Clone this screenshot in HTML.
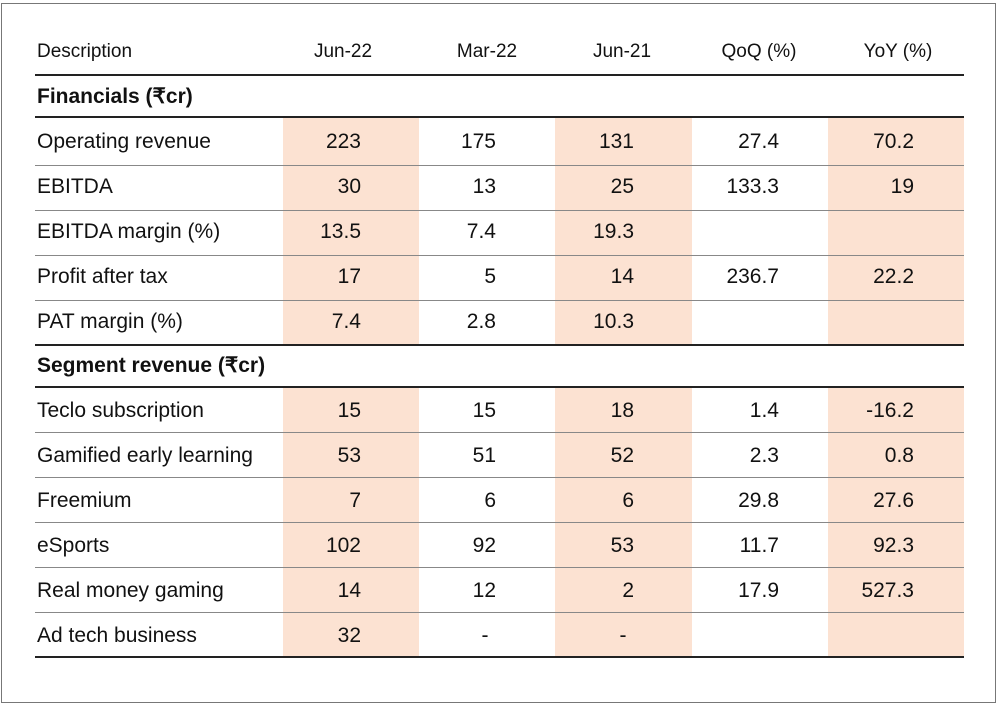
<!DOCTYPE html>
<html><head><meta charset="utf-8"><style>
body{margin:0;width:1000px;height:706px;background:#fff;position:relative;overflow:hidden;font-family:"Liberation Sans",sans-serif;color:#111}
.frame{position:absolute;left:1px;top:3px;width:995px;height:700px;border:1px solid #777;box-sizing:border-box}
.sh{position:absolute;background:#fce2d2}
.ln{position:absolute;left:35px;width:929px;height:1px;background:#888}
.dk{height:2px;background:#222}
.t{position:absolute;font-size:21px;line-height:24px;white-space:nowrap}
.b{font-weight:bold}
</style></head><body>
<div class="frame"></div>
<div class="sh" style="left:283px;top:118px;width:136px;height:227px"></div>
<div class="sh" style="left:555px;top:118px;width:137px;height:227px"></div>
<div class="sh" style="left:828px;top:118px;width:136px;height:227px"></div>
<div class="sh" style="left:283px;top:388px;width:136px;height:269px"></div>
<div class="sh" style="left:555px;top:388px;width:137px;height:269px"></div>
<div class="sh" style="left:828px;top:388px;width:136px;height:269px"></div>
<div class="ln dk" style="top:74px"></div>
<div class="ln dk" style="top:116px"></div>
<div class="ln" style="top:165px"></div>
<div class="ln" style="top:210px"></div>
<div class="ln" style="top:255px"></div>
<div class="ln" style="top:300px"></div>
<div class="ln dk" style="top:344px"></div>
<div class="ln dk" style="top:386px"></div>
<div class="ln" style="top:432px"></div>
<div class="ln" style="top:477px"></div>
<div class="ln" style="top:522px"></div>
<div class="ln" style="top:567px"></div>
<div class="ln" style="top:612px"></div>
<div class="ln dk" style="top:656px"></div>
<div id="c"></div>
<div class="t" style="left:37px;top:40px;font-size:19px">Description</div>
<div class="t" style="left:283px;width:120px;text-align:center;top:40px;font-size:19px">Jun-22</div>
<div class="t" style="left:427px;width:120px;text-align:center;top:40px;font-size:19px">Mar-22</div>
<div class="t" style="left:562px;width:120px;text-align:center;top:40px;font-size:19px">Jun-21</div>
<div class="t" style="left:699px;width:120px;text-align:center;top:40px;font-size:19px">QoQ (%)</div>
<div class="t" style="left:838px;width:120px;text-align:center;top:40px;font-size:19px">YoY (%)</div>
<div class="t b" style="left:37px;top:85px">Financials (₹cr)</div>
<div class="t b" style="left:37px;top:354px">Segment revenue (₹cr)</div>
<script>
var rows=[
[142,"Operating revenue","223","175","131","27.4","70.2"],
[187,"EBITDA","30","13","25","133.3","19"],
[232,"EBITDA margin (%)","13.5","7.4","19.3","",""],
[277,"Profit after tax","17","5","14","236.7","22.2"],
[322,"PAT margin (%)","7.4","2.8","10.3","",""],
[411,"Teclo subscription","15","15","18","1.4","-16.2"],
[456,"Gamified early learning","53","51","52","2.3","0.8"],
[501,"Freemium","7","6","6","29.8","27.6"],
[546,"eSports","102","92","53","11.7","92.3"],
[591,"Real money gaming","14","12","2","17.9","527.3"],
[636,"Ad tech business","32","-","-","",""]];
var rights=[361,496,634,779,914],h="";
rows.forEach(function(r){
h+='<div class="t" style="left:37px;top:'+(r[0]-12)+'px">'+r[1]+'</div>';
for(var i=0;i<5;i++){var v=r[i+2];if(!v)continue;
var st=(v=="-")?'left:'+(rights[i]-16)+'px;width:10px;text-align:center':'left:'+(rights[i]-100)+'px;width:100px;text-align:right';
h+='<div class="t" style="'+st+';top:'+(r[0]-12)+'px">'+v+'</div>';}
});
document.getElementById('c').innerHTML=h;
</script>
</body></html>
